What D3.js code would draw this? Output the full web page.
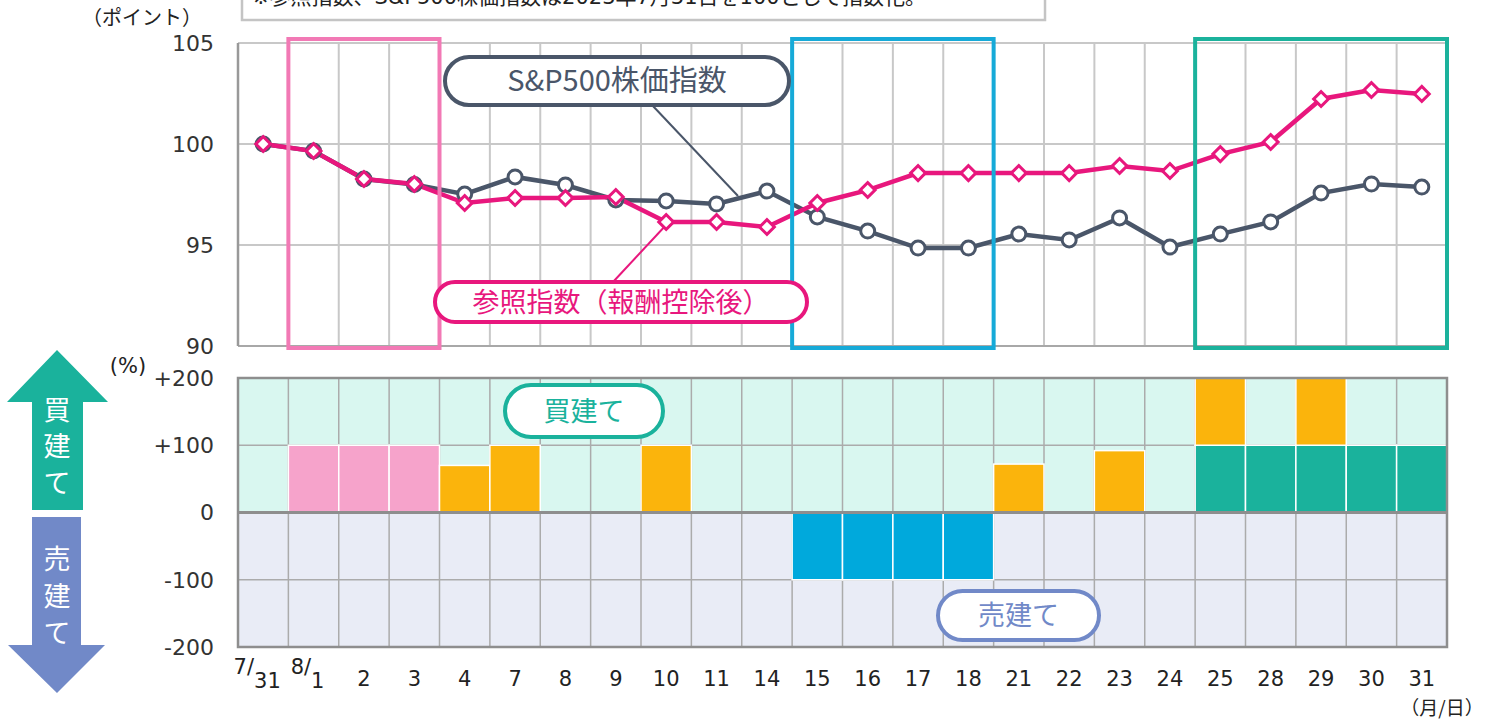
<!DOCTYPE html>
<html>
<head>
<meta charset="utf-8">
<script src="https://cdn.jsdelivr.net/npm/d3@7"></script>
<style>
    body { margin: 0; background: #fff; }
    svg { font-family: "DejaVu Sans", "Noto Sans CJK JP", sans-serif; }
</style>
</head>
<body>
<div id="chart"></div>
<script>
// dates (x axis)
const dates = ["7/31", "8/1", "2", "3", "4", "7", "8", "9", "10", "11", "14", "15", "16", "17", "18", "21", "22", "23", "24", "25", "28", "29", "30", "31"];

// index values (7/31 = 100)
const sp500 = [100, 99.65, 98.27, 98.0, 97.52, 98.37, 97.97, 97.23, 97.18, 97.03, 97.67, 96.39, 95.69, 94.85, 94.85, 95.54, 95.25, 96.34, 94.9, 95.54, 96.14, 97.57, 98.02, 97.87];
const refIndex = [100, 99.65, 98.27, 98.02, 97.08, 97.33, 97.33, 97.38, 96.14, 96.14, 95.89, 97.08, 97.72, 98.56, 98.56, 98.56, 98.56, 98.91, 98.66, 99.5, 100.1, 102.23, 102.67, 102.48];

// position (%) : base part coloured by period, extra part in orange
const positionBase = [0, 100, 100, 100, 0, 0, 0, 0, 0, 0, 0, -100, -100, -100, -100, 0, 0, 0, 0, 100, 100, 100, 100, 100];
const positionExtra = [0, 0, 0, 0, 70, 100, 0, 0, 100, 0, 0, 0, 0, 0, 0, 72, 0, 92, 0, 100, 0, 100, 0, 0];

const periods = [
    { from: "8/1", to: "3", box: "#f279b5", bar: "#f6a3cb" },
    { from: "15", to: "18", box: "#16aad8", bar: "#00a9dc" },
    { from: "25", to: "31", box: "#1bb29c", bar: "#1ab29c" }
];

const topTicks = [90, 95, 100, 105];
const botTicks = [-200, -100, 0, 100, 200];

const GRAY = "#4a5669";
const PINK = "#e8177d";
const ORANGE = "#fbb40c";
const TEAL = "#1ab29c";
const LAV = "#7189c8";

const width = 1490, height = 722;

const svg = d3.select("#chart")
    .append("svg")
    .attr("width", width)
    .attr("height", height)

const x = d3.scaleBand().domain(dates).range([238, 1447]).padding(0);
const yTop = d3.scaleLinear().domain([90, 105]).range([346, 43]);
const yBot = d3.scaleLinear().domain([-200, 200]).range([647, 378]);

const edges = dates.map(d => x(d)).concat([x.range()[1]]);

// note box (cut at the top, as in the source)
svg.append("rect")
    .attr("x", 242).attr("y", -30)
    .attr("width", 803).attr("height", 50)
    .attr("fill", "#fff")
    .attr("stroke", "#c4c4c4")
    .attr("stroke-width", 2.5)
svg.append("text")
    .attr("x", 252).attr("y", 4)
    .style("font-size", "21px")
    .attr("fill", "#222")
    .text("※参照指数、S&P500株価指数は2023年7月31日を100として指数化。")

// ---------- upper chart ----------
const upper = svg.append("g");

upper.selectAll("line.vgrid")
    .data(edges.slice(1))
    .join("line")
    .attr("class", "vgrid")
    .attr("x1", d => d).attr("x2", d => d)
    .attr("y1", yTop(105)).attr("y2", yTop(90))
    .attr("stroke", "#c8c8c8")
    .attr("stroke-width", 2)

upper.selectAll("line.hgrid")
    .data(topTicks)
    .join("line")
    .attr("class", "hgrid")
    .attr("x1", x.range()[0]).attr("x2", x.range()[1])
    .attr("y1", d => yTop(d)).attr("y2", d => yTop(d))
    .attr("stroke", d => d == 90 ? "#a8a8a8" : "#c8c8c8")
    .attr("stroke-width", 2)

upper.append("line")
    .attr("x1", x.range()[0]).attr("x2", x.range()[0])
    .attr("y1", yTop(105)).attr("y2", yTop(90))
    .attr("stroke", "#999")
    .attr("stroke-width", 2.5)

upper.selectAll("text.ytick")
    .data(topTicks)
    .join("text")
    .attr("class", "ytick")
    .attr("x", 214)
    .attr("y", d => yTop(d))
    .attr("dy", "0.36em")
    .attr("text-anchor", "end")
    .style("font-size", "22px")
    .attr("fill", "#333")
    .text(d => d)

svg.append("text")
    .attr("x", 142).attr("y", 25)
    .attr("text-anchor", "middle")
    .style("font-size", "20px")
    .style("font-family", "Noto Sans CJK JP")
    .attr("fill", "#222")
    .text("（ポイント）")

const cx = d => x(d) + x.bandwidth() / 2;

const line = (values) => d3.line()
    .x((d, i) => cx(dates[i]))
    .y(d => yTop(d))(values);

// leader lines
upper.append("line")
    .attr("x1", 652).attr("y1", 105)
    .attr("x2", 738).attr("y2", 196)
    .attr("stroke", GRAY).attr("stroke-width", 2)
upper.append("line")
    .attr("x1", 613).attr("y1", 282)
    .attr("x2", 667).attr("y2", 224)
    .attr("stroke", PINK).attr("stroke-width", 2)

upper.append("path")
    .attr("d", line(sp500))
    .attr("fill", "none")
    .attr("stroke", GRAY)
    .attr("stroke-width", 4.5)

upper.append("path")
    .attr("d", line(refIndex))
    .attr("fill", "none")
    .attr("stroke", PINK)
    .attr("stroke-width", 4.5)

upper.selectAll("circle.sp")
    .data(sp500)
    .join("circle")
    .attr("class", "sp")
    .attr("cx", (d, i) => cx(dates[i]))
    .attr("cy", d => yTop(d))
    .attr("r", 7)
    .attr("fill", "#fff")
    .attr("stroke", GRAY)
    .attr("stroke-width", 3)

upper.selectAll("path.ref")
    .data(refIndex)
    .join("path")
    .attr("class", "ref")
    .attr("d", d3.symbol(d3.symbolSquare, 110))
    .attr("transform", (d, i) => `translate(${cx(dates[i])},${yTop(d)}) rotate(45)`)
    .attr("fill", "#fff")
    .attr("stroke", PINK)
    .attr("stroke-width", 3)

// period boxes
upper.selectAll("rect.period")
    .data(periods)
    .join("rect")
    .attr("class", "period")
    .attr("x", d => x(d.from))
    .attr("y", yTop(105) - 4)
    .attr("width", d => x(d.to) + x.bandwidth() - x(d.from))
    .attr("height", yTop(90) - yTop(105) + 6)
    .attr("fill", "none")
    .attr("stroke", d => d.box)
    .attr("stroke-width", 4)

// labels
function pill(g, x0, y0, w, h, color, label, size) {
    g.append("rect")
        .attr("x", x0).attr("y", y0)
        .attr("width", w).attr("height", h)
        .attr("rx", h / 2)
        .attr("fill", "#fff")
        .attr("stroke", color)
        .attr("stroke-width", 4)
    g.append("text")
        .attr("x", x0 + w / 2).attr("y", y0 + h / 2)
        .attr("dy", "0.36em")
        .attr("text-anchor", "middle")
        .style("font-size", size + "px")
        .style("font-family", "Noto Sans CJK JP")
        .attr("fill", color)
        .text(label)
}
pill(svg, 445, 57, 344, 48, GRAY, "S&P500株価指数", 29);
pill(svg, 435, 282, 372, 40, PINK, "参照指数（報酬控除後）", 27);

// ---------- lower chart ----------
const lower = svg.append("g");

lower.append("rect")
    .attr("x", x.range()[0]).attr("y", yBot(200))
    .attr("width", x.range()[1] - x.range()[0])
    .attr("height", yBot(0) - yBot(200))
    .attr("fill", "#d9f7f0")
lower.append("rect")
    .attr("x", x.range()[0]).attr("y", yBot(0))
    .attr("width", x.range()[1] - x.range()[0])
    .attr("height", yBot(-200) - yBot(0))
    .attr("fill", "#e9ecf6")

lower.selectAll("line.vgrid")
    .data(edges.slice(1, -1))
    .join("line")
    .attr("class", "vgrid")
    .attr("x1", d => d).attr("x2", d => d)
    .attr("y1", yBot(200)).attr("y2", yBot(-200))
    .attr("stroke", "#ababab")
    .attr("stroke-width", 1.5)

lower.selectAll("line.hgrid")
    .data([100, -100])
    .join("line")
    .attr("class", "hgrid")
    .attr("x1", x.range()[0]).attr("x2", x.range()[1])
    .attr("y1", d => yBot(d)).attr("y2", d => yBot(d))
    .attr("stroke", "#ababab")
    .attr("stroke-width", 1.5)

const barColor = (i) => {
    const p = periods.find(p => dates.indexOf(p.from) <= i && i <= dates.indexOf(p.to));
    return p ? p.bar : ORANGE;
}

lower.selectAll("rect.base")
    .data(positionBase)
    .join("rect")
    .attr("class", "base")
    .attr("x", (d, i) => x(dates[i]))
    .attr("y", d => yBot(Math.max(0, d)))
    .attr("width", x.bandwidth())
    .attr("height", d => Math.abs(yBot(d) - yBot(0)))
    .attr("fill", (d, i) => barColor(i))
    .attr("stroke", "#fff")
    .attr("stroke-width", 1.5)

lower.selectAll("rect.extra")
    .data(positionExtra)
    .join("rect")
    .attr("class", "extra")
    .attr("x", (d, i) => x(dates[i]))
    .attr("y", (d, i) => yBot(positionBase[i] + d))
    .attr("width", x.bandwidth())
    .attr("height", d => yBot(0) - yBot(d))
    .attr("fill", ORANGE)
    .attr("stroke", "#fff")
    .attr("stroke-width", 1.5)

lower.append("rect")
    .attr("x", x.range()[0]).attr("y", yBot(200))
    .attr("width", x.range()[1] - x.range()[0])
    .attr("height", yBot(-200) - yBot(200))
    .attr("fill", "none")
    .attr("stroke", "#8e8e8e")
    .attr("stroke-width", 2.5)
lower.append("line")
    .attr("x1", x.range()[0]).attr("x2", x.range()[1])
    .attr("y1", yBot(0)).attr("y2", yBot(0))
    .attr("stroke", "#8e8e8e")
    .attr("stroke-width", 3)

lower.selectAll("text.ytick")
    .data(botTicks)
    .join("text")
    .attr("class", "ytick")
    .attr("x", 214)
    .attr("y", d => yBot(d))
    .attr("dy", "0.36em")
    .attr("text-anchor", "end")
    .style("font-size", "22px")
    .attr("fill", "#333")
    .text(d => d > 0 ? "+" + d : d)

svg.append("text")
    .attr("x", 128).attr("y", 365)
    .attr("dy", "0.36em")
    .attr("text-anchor", "middle")
    .style("font-size", "21px")
    .attr("fill", "#222")
    .text("(%)")

// x labels
const xl = lower.selectAll("text.xtick")
    .data(dates)
    .join("text")
    .attr("class", "xtick")
    .attr("x", d => cx(d) - (d.includes("/") ? 6 : 0))
    .attr("y", 686)
    .attr("text-anchor", "middle")
    .style("font-size", "21px")
    .attr("fill", "#222")
xl.filter(d => !d.includes("/")).text(d => d)
xl.filter(d => d.includes("/")).each(function(d) {
    const [m, day] = d.split("/");
    const t = d3.select(this);
    t.append("tspan").attr("dy", -12).text(m + "/");
    t.append("tspan").attr("dy", 14).text(day);
})

svg.append("text")
    .attr("x", 1442).attr("y", 715)
    .style("font-size", "19px")
    .attr("text-anchor", "middle")
    .style("font-family", "Noto Sans CJK JP")
    .attr("fill", "#222")
    .text("（月/日）")

pill(svg, 505, 385, 158, 52, TEAL, "買建て", 27);
pill(svg, 938, 591, 161, 49, LAV, "売建て", 27);

// side arrows
svg.append("path")
    .attr("d", "M57,350 L108,402 L83,402 L83,510 L32,510 L32,402 L7,402 Z")
    .attr("fill", TEAL)
svg.append("path")
    .attr("d", "M32,517 L81,517 L81,645 L105,645 L57,693 L8,645 L32,645 Z")
    .attr("fill", LAV)

const arrowText = [
    { ch: "買", y: 410 }, { ch: "建", y: 446 }, { ch: "て", y: 483 },
    { ch: "売", y: 559 }, { ch: "建", y: 596 }, { ch: "て", y: 633 }
];
svg.selectAll("text.arrow")
    .data(arrowText)
    .join("text")
    .attr("class", "arrow")
    .attr("x", 57)
    .attr("y", d => d.y)
    .attr("dy", "0.36em")
    .attr("text-anchor", "middle")
    .style("font-size", "27px")
    .style("font-family", "Noto Sans CJK JP")
    .attr("fill", "#fff")
    .text(d => d.ch)
</script>
</body>
</html>
